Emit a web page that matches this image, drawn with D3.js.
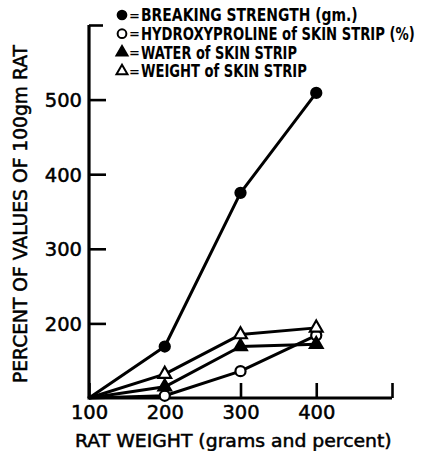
<!DOCTYPE html>
<html>
<head>
<meta charset="utf-8">
<script src="https://cdn.jsdelivr.net/npm/d3@7"></script>
<style>
  body { margin: 0; background: #fff; }
  text { font-family: "DejaVu Sans", sans-serif; fill: #000; }
</style>
</head>
<body>
<div class="chart"></div>
<script>
// data (percent of 100 gm rat values)
const ratWeights = [100, 200, 300, 400];
const breakingStrength = [100, 169, 375, 509];
const hydroxyproline = [100, 103, 136, 184];
const waterOfStrip = [100, 115, 169, 172];
const weightOfStrip = [100, 132, 185, 194];

const xTicks = [100, 200, 300, 400, 500];
const yTicks = [200, 300, 400, 500, 600];
const legendLabels = [
  "BREAKING STRENGTH (gm.)",
  "HYDROXYPROLINE of SKIN STRIP (%)",
  "WATER of SKIN STRIP",
  "WEIGHT of SKIN STRIP"
];

const width = 421, height = 451;
const margin = {top: 25, left: 89, right: 29, bottom: 53};
const chartWidth = width - margin.left - margin.right;
const chartHeight = height - margin.top - margin.bottom;

let svg = d3.select(".chart")
  .append("svg")
    .attr("width", width)
    .attr("height", height);

let chart = svg.append("g")
    .attr("id", "g-chart")
    .attr("transform", "translate(" + margin.left + "," + margin.top + ")");

let x = d3.scaleLinear()
  .domain([100, 500])
  .range([0, chartWidth]);

let y = d3.scaleLinear()
  .domain([100, 600])
  .range([chartHeight, 0]);

// X axis, ticks pointing up into the plot
let xAxis = chart.append("g")
  .attr("id", "x-axis")
  .attr("transform", "translate(0," + chartHeight + ")")
  .call(d3.axisBottom(x)
    .tickValues(xTicks)
    .tickSize(-15)
    .tickPadding(7)
    .tickFormat(d => d == 500 ? "" : d));

// Y axis, ticks pointing right
let yAxis = chart.append("g")
  .attr("id", "y-axis")
  .call(d3.axisLeft(y)
    .tickValues(yTicks)
    .tickSize(-17)
    .tickPadding(7)
    .tickFormat(d => d == 600 ? "" : d));

chart.selectAll(".domain").remove();
chart.selectAll(".tick line")
  .attr("stroke", "#000")
  .attr("stroke-width", 2.6);
chart.selectAll(".tick text")
  .attr("font-size", 19.5)
  .attr("font-family", "Liberation Sans, sans-serif")
  .attr("fill", "#000")
  .attr("stroke", "#000")
  .attr("stroke-width", 0.5);
yAxis.selectAll(".tick text").attr("dy", "0.36em");
yAxis.selectAll(".tick").filter(d => d == 600).select("line").attr("x2", 14);

// axis lines
chart.append("line")
  .attr("x1", x(100)).attr("x2", x(100))
  .attr("y1", y(600)).attr("y2", y(100))
  .attr("stroke", "#000").attr("stroke-width", 3.2);
chart.append("line")
  .attr("x1", x(100) - 1.5).attr("x2", x(500))
  .attr("y1", y(100)).attr("y2", y(100))
  .attr("stroke", "#000").attr("stroke-width", 3.2);

// squeeze a text horizontally so it spans the given width
function fitWidth(sel, tx, ty, w) {
  let natural = sel.node().getComputedTextLength();
  sel.attr("transform", "translate(" + tx + "," + ty + ") scale(" + (w / natural) + ",1)");
}

// axis titles
let xTitle = svg.append("text")
  .attr("font-size", 17.5)
  .attr("stroke", "#000")
  .attr("stroke-width", 0.5)
  .text("RAT WEIGHT (grams and percent)");
fitWidth(xTitle, 75, 447, 317);

svg.append("text")
  .attr("transform", "translate(27,383) rotate(-90)")
  .attr("font-size", 20)
  .attr("stroke", "#000")
  .attr("stroke-width", 0.5)
  .attr("textLength", 338)
  .attr("lengthAdjust", "spacingAndGlyphs")
  .text("PERCENT OF VALUES OF 100gm RAT");

const series = [
  {values: breakingStrength, symbol: d3.symbolCircle, fill: "#000", size: 80},
  {values: hydroxyproline, symbol: d3.symbolCircle, fill: "#fff", size: 80},
  {values: waterOfStrip, symbol: d3.symbolTriangle, fill: "#000", size: 70},
  {values: weightOfStrip, symbol: d3.symbolTriangle, fill: "#fff", size: 70}
];

let line = d3.line()
  .x((d, i) => x(ratWeights[i]))
  .y(d => y(d));

series.forEach(s => {
  chart.append("path")
    .datum(s.values)
    .attr("fill", "none")
    .attr("stroke", "#000")
    .attr("stroke-width", 3)
    .attr("stroke-linejoin", "round")
    .attr("d", line);
});

series.forEach(s => {
  chart.selectAll(null)
    .data(s.values.slice(1))
    .enter().append("path")
      .attr("transform", (d, i) => "translate(" + x(ratWeights[i + 1]) + "," + y(d) + ")")
      .attr("d", d3.symbol().type(s.symbol).size(s.size))
      .attr("fill", s.fill)
      .attr("stroke", "#000")
      .attr("stroke-width", 2.2);
});

// legend
const legendWidths = [217, 274, 156, 166];
let legend = svg.append("g").attr("id", "legend");
series.forEach((s, i) => {
  let ly = 15 + i * 18.7;
  legend.append("path")
    .attr("transform", "translate(122," + ly + ")")
    .attr("d", d3.symbol().type(s.symbol).size(s.size * 0.75))
    .attr("fill", s.fill)
    .attr("stroke", "#000")
    .attr("stroke-width", 2);
  legend.append("text")
    .attr("x", 129)
    .attr("y", ly)
    .attr("dy", "0.36em")
    .attr("font-size", 13)
    .attr("font-weight", "bold")
    .text("=");
  let t = legend.append("text")
    .attr("dy", "0.36em")
    .attr("font-size", 17)
    .attr("font-weight", "bold")
    .text(legendLabels[i]);
  fitWidth(t, 141, ly, legendWidths[i]);
});
</script>
</body>
</html>
